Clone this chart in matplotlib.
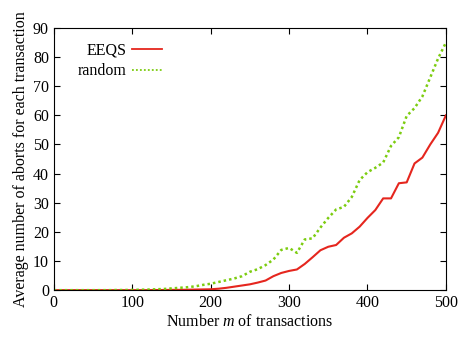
import matplotlib
matplotlib.use("Agg")
import matplotlib.pyplot as plt

plt.rcParams["font.family"] = "Liberation Serif"
plt.rcParams["mathtext.fontset"] = "custom"
plt.rcParams["mathtext.rm"] = "Liberation Serif"
plt.rcParams["mathtext.it"] = "Liberation Serif:italic"
plt.rcParams["font.size"] = 11.5

m = [0, 10, 20, 30, 40, 50, 60, 70, 80, 90, 100, 110, 120, 130, 140, 150,
     160, 170, 180, 190, 200, 210, 220, 230, 240, 250, 260, 270, 280, 290,
     300, 310, 320, 330, 340, 350, 360, 370, 380, 390, 400, 410, 420, 430,
     440, 450, 460, 470, 480, 490, 500]

eeqs = [0, 0, 0, 0, 0, 0, 0, 0, 0, 0, 0, 0, 0, 0.05, 0.05, 0.1,
        0.1, 0.15, 0.2, 0.25, 0.3, 0.5, 0.8, 1.2, 1.6, 2.0, 2.6, 3.3, 4.8, 5.9,
        6.6, 7.1, 9.0, 11.3, 13.7, 14.9, 15.5, 18.0, 19.5, 21.8, 24.8, 27.5, 31.5, 31.5,
        36.7, 37.0, 43.5, 45.5, 50.0, 54.0, 60.0]

rand = [0, 0, 0, 0, 0, 0, 0, 0, 0.05, 0.05, 0.1, 0.15, 0.2, 0.3, 0.4, 0.6,
        0.8, 1.0, 1.3, 1.8, 2.2, 2.8, 3.4, 4.0, 4.8, 6.3, 7.2, 8.6, 10.5, 13.8,
        14.5, 12.8, 17.4, 17.8, 21.5, 24.8, 27.7, 28.6, 32.0, 37.8, 40.5, 42.0, 43.8, 49.5,
        52.5, 59.8, 62.5, 66.5, 73.0, 79.5, 85.0]

fig = plt.figure(figsize=(4.64, 3.37), dpi=100)
ax = fig.add_axes([0.116, 0.139, 0.845, 0.778])

ax.plot(m, eeqs, color="#e5261e", lw=1.5, label="EEQS")
ax.plot(m, rand, color="#7ccc10", lw=1.8, ls=(0, (1, 1.2)), label="random")

ax.set_xlim(0, 500)
ax.set_ylim(0, 90)
ax.set_xticks(range(0, 501, 100))
ax.set_yticks(range(0, 91, 10))
ax.tick_params(direction="in", top=True, right=True, length=4, labelsize=11.5)
ax.set_xlabel("Number $m$ of transactions", labelpad=2)
ax.set_ylabel("Average number of aborts for each transaction", labelpad=3)

leg = ax.legend(loc="upper right", frameon=False, markerfirst=False,
                handlelength=1.9, handletextpad=0.3, borderpad=0, borderaxespad=0,
                bbox_to_anchor=(0.276, 0.945), labelspacing=0.3, fontsize=11.5)
for h in leg.get_lines():
    h.set_linewidth(1.3)

fig.savefig("out.png", dpi=100)
